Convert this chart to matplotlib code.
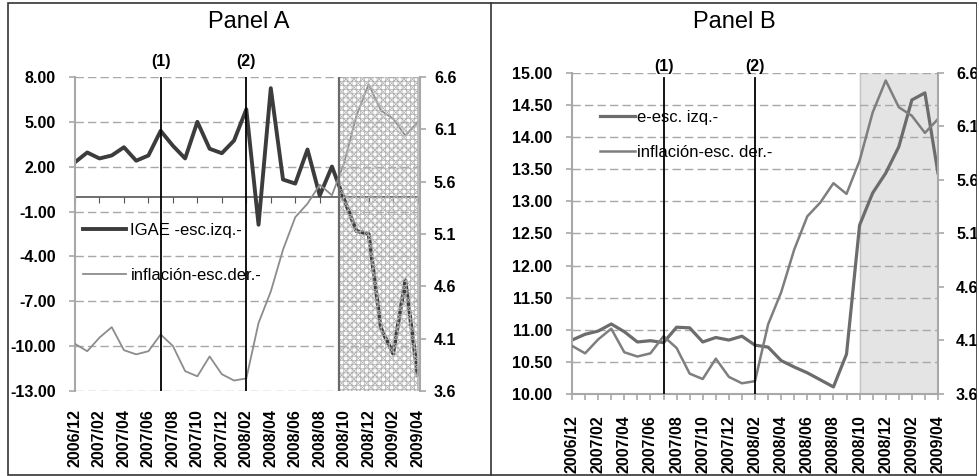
import numpy as np
import matplotlib.pyplot as plt
from matplotlib.lines import Line2D
from matplotlib.patches import Rectangle

plt.rcParams['font.family'] = ['Liberation Sans', 'DejaVu Sans']
plt.rcParams['hatch.linewidth'] = 0.5

# ----------------- DATA -----------------
meses = ['2006/12', '2007/01', '2007/02', '2007/03', '2007/04', '2007/05', '2007/06',
         '2007/07', '2007/08', '2007/09', '2007/10', '2007/11', '2007/12', '2008/01',
         '2008/02', '2008/03', '2008/04', '2008/05', '2008/06', '2008/07', '2008/08',
         '2008/09', '2008/10', '2008/11', '2008/12', '2009/01', '2009/02', '2009/03',
         '2009/04']

# IGAE, variacion anual (%) - escala izquierda, Panel A
igae = [2.3, 2.95, 2.55, 2.75, 3.3, 2.4, 2.75, 4.4, 3.4, 2.55, 5.0, 3.2, 2.9, 3.75,
        5.84, -1.88, 7.25, 1.14, 0.87, 3.15, 0.07, 2.01, -0.2, -2.3, -2.5, -8.8,
        -10.5, -5.6, -11.9]

# inflacion anual (%) - escala derecha, ambos paneles
inflacion = [4.05, 3.98, 4.11, 4.21, 3.99, 3.95, 3.98, 4.14, 4.03, 3.79, 3.74, 3.93,
             3.76, 3.70, 3.72, 4.25, 4.55, 4.95, 5.26, 5.39, 5.57, 5.47, 5.78, 6.23,
             6.53, 6.28, 6.20, 6.04, 6.17]

# tipo de cambio (pesos por dolar) - escala izquierda, Panel B
tipo_cambio = [10.84, 10.93, 10.98, 11.09, 10.97, 10.81, 10.83, 10.80, 11.04, 11.03,
               10.81, 10.88, 10.84, 10.90, 10.76, 10.73, 10.52, 10.42, 10.33, 10.22,
               10.11, 10.62, 12.63, 13.13, 13.44, 13.85, 14.58, 14.69, 13.44]

eventos = ['2007/07', '2008/02']          # lineas (1) y (2)
inicio_crisis = '2008/10'

x = np.arange(len(meses))
x_lab = x[::2]
etiquetas = meses[::2]
x_ev = [meses.index(m) for m in eventos]
x_crisis = meses.index(inicio_crisis)

grid_kw = dict(axis='y', linestyle=(0, (6, 3)), color='#a8a8a8', linewidth=1.0)
spine_c = '#a8a8a8'
tick_fs = 11.5

fig = plt.figure(figsize=(9.78, 4.76), dpi=100)

# ----------------- PANEL A -----------------
axA = fig.add_axes([0.0767, 0.1786, 0.3528, 0.6597])
axA.set_xlim(0, 28.2)
axA.set_ylim(-13, 8)
axA.set_yticks(np.arange(-13, 8.1, 3))
axA.set_yticklabels(['%.2f' % v for v in np.arange(-13, 8.1, 3)])
axA.set_xticks(x_lab)
axA.set_xticklabels(etiquetas, rotation=90)
axA.grid(**grid_kw)
for s in ['top', 'bottom', 'right']:
    axA.spines[s].set_visible(False)
axA.spines['left'].set_color(spine_c)
axA.spines['left'].set_linewidth(1.5)
axA.tick_params(axis='y', colors=spine_c, labelcolor='black', length=4, width=1.2, pad=10)
axA.tick_params(axis='x', length=0, pad=13)
for t in axA.get_xticklabels() + axA.get_yticklabels():
    t.set_fontweight('bold')
    t.set_fontsize(tick_fs)

# linea del cero con marcas
axA.axhline(0, color='#555555', linewidth=1.2)
sec = axA.secondary_xaxis(13 / 21)
sec.set_xticks(x_lab)
sec.tick_params(axis='x', direction='in', length=4, color='#555555',
                labeltop=False, labelbottom=False)
for s in sec.spines.values():
    s.set_visible(False)

lA1, = axA.plot(x, igae, color='#3c3c3c', linewidth=2.8, label='IGAE -esc.izq.-')

axA2 = axA.twinx()
axA2.set_ylim(3.6, 6.6)
axA2.set_yticks(np.arange(3.6, 6.61, 0.5))
axA2.set_yticklabels(['%.1f' % v for v in np.arange(3.6, 6.61, 0.5)])
for s in ['top', 'bottom', 'left']:
    axA2.spines[s].set_visible(False)
axA2.spines['right'].set_color(spine_c)
axA2.spines['right'].set_linewidth(1.5)
axA2.tick_params(axis='y', colors=spine_c, labelcolor='black', length=4, width=1.2, pad=6)
for t in axA2.get_yticklabels():
    t.set_fontweight('bold')
    t.set_fontsize(tick_fs)

lA2, = axA2.plot(x, inflacion, color='#8c8c8c', linewidth=1.3, label='inflación-esc.der.-')

# periodo de crisis sombreado (trama)
axA2.axvspan(x_crisis - 0.4, x[-1], facecolor='none', edgecolor='#b0b0b0',
             hatch='xxxx++++', linewidth=0, zorder=5)
axA2.axvline(x_crisis - 0.4, color='#6a6a6a', linewidth=1.6, zorder=6)
axA2.axvline(x[-1], color='#b5b5b5', linewidth=1.2, zorder=6)

for xe, nombre in zip(x_ev, ['(1)', '(2)']):
    axA2.axvline(xe, color='black', linewidth=1.3, zorder=7)
    axA2.annotate(nombre, xy=(xe, 1), xycoords=('data', 'axes fraction'),
                  xytext=(0, 11), textcoords='offset points', ha='center', va='center',
                  fontsize=11.5, fontweight='bold')

axA2.legend(handles=[lA1, lA2], loc='upper left', bbox_to_anchor=(0.023, 0.535),
            frameon=False, fontsize=12, borderpad=0, borderaxespad=0,
            handlelength=2.6, handletextpad=0.25, labelspacing=1.8)

# ----------------- PANEL B -----------------
axB = fig.add_axes([0.5849, 0.1723, 0.3742, 0.6744])
axB.set_xlim(0, 28)
axB.set_ylim(10, 15)
axB.set_yticks(np.arange(10, 15.01, 0.5))
axB.set_yticklabels(['%.2f' % v for v in np.arange(10, 15.01, 0.5)])
axB.set_xticks(x_lab)
axB.set_xticklabels(etiquetas, rotation=90)
axB.set_xticks(x, minor=True)
axB.grid(**grid_kw)
for s in ['top', 'right']:
    axB.spines[s].set_visible(False)
for s in ['left', 'bottom']:
    axB.spines[s].set_color(spine_c)
    axB.spines[s].set_linewidth(1.5)
axB.tick_params(axis='y', colors=spine_c, labelcolor='black', length=4, width=1.2, pad=10)
axB.tick_params(axis='x', which='both', colors=spine_c, labelcolor='black',
                length=4, width=1.2, pad=11)
for t in axB.get_xticklabels() + axB.get_yticklabels():
    t.set_fontweight('bold')
    t.set_fontsize(tick_fs)

axB.axvspan(x_crisis, x[-1], color='#e4e4e4', zorder=0.5)
axB.axvline(x_crisis, color='#c4c4c4', linewidth=1.0, zorder=0.6)

lB1, = axB.plot(x, tipo_cambio, color='#6c6c6c', linewidth=2.3, label='e-esc. izq.-')

axB2 = axB.twinx()
axB2.set_ylim(3.6, 6.6)
axB2.set_yticks(np.arange(3.6, 6.61, 0.5))
axB2.set_yticklabels(['%.1f' % v for v in np.arange(3.6, 6.61, 0.5)])
for s in ['top', 'bottom', 'left']:
    axB2.spines[s].set_visible(False)
axB2.spines['right'].set_color(spine_c)
axB2.spines['right'].set_linewidth(1.5)
axB2.tick_params(axis='y', colors=spine_c, labelcolor='black', length=4, width=1.2, pad=9)
for t in axB2.get_yticklabels():
    t.set_fontweight('bold')
    t.set_fontsize(tick_fs)

lB2, = axB2.plot(x, inflacion, color='#7e7e7e', linewidth=1.8, label='inflación-esc. der.-')

for xe, nombre in zip(x_ev, ['(1)', '(2)']):
    axB2.axvline(xe, ymax=0.985, color='black', linewidth=1.3, zorder=7)
    axB2.annotate(nombre, xy=(xe, 1), xycoords=('data', 'axes fraction'),
                  xytext=(0, 5), textcoords='offset points', ha='center', va='center',
                  fontsize=11.5, fontweight='bold')

axB2.legend(handles=[lB1, lB2], loc='upper left', bbox_to_anchor=(0.0765, 0.886),
            frameon=False, fontsize=12, borderpad=0, borderaxespad=0,
            handlelength=2.1, handletextpad=0.1, labelspacing=1.2)

# ----------------- MARCOS Y TITULOS -----------------
fig.add_artist(Rectangle((8 / 978, 1 / 476), 969 / 978, 472 / 476, transform=fig.transFigure,
                         fill=False, edgecolor='#333333', linewidth=1.2))
fig.add_artist(Line2D([491 / 978, 491 / 978], [1 / 476, 473 / 476], transform=fig.transFigure,
                      color='#333333', linewidth=1.2))
fig.text(249 / 978, 1 - 22 / 476, 'Panel A', ha='center', va='center', fontsize=17)
fig.text(734 / 978, 1 - 22 / 476, 'Panel B', ha='center', va='center', fontsize=17)

fig.savefig('out.png', dpi=100)
